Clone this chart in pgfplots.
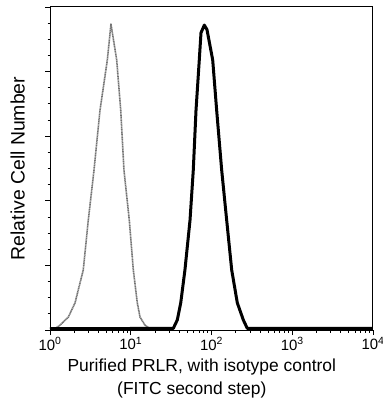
\documentclass[border=0pt]{standalone}
\usepackage{pgfplots}
\pgfplotsset{compat=1.18}
\usepackage{fontspec}
\setmainfont{Liberation Sans}
\begin{document}
\begin{tikzpicture}
\begin{axis}[
  scale only axis,
  width=323bp, height=323bp,
  xmode=log,
  xmin=1, xmax=10000,
  ymin=0, ymax=100,
  xtick={1,10,100,1000,10000},
  xticklabels={10\textsuperscript{0},10\textsuperscript{1},10\textsuperscript{2},10\textsuperscript{3},10\textsuperscript{4}},
  ytick={0,20,40,60,80,100},
  yticklabels={},
  minor y tick num=3,
  xtick pos=bottom, ytick pos=left,
  tick align=outside,
  major tick length=5bp, minor tick length=2.5bp,
  every tick/.style={black, line width=0.8pt},
  axis line style={line width=1pt},
  tick label style={font=\fontsize{15}{17}\selectfont},
  xticklabel style={yshift=1bp},
  /pgf/number format/assume math mode=true,
  xlabel={Purified PRLR, with isotype control\\\hspace*{-20bp}(FITC second step)},
  xlabel style={align=center, font=\fontsize{17.5}{23.5}\selectfont, at={(axis description cs:0.47,0)}, anchor=north, yshift=-25bp},
  ylabel={Relative Cell Number},
  ylabel style={font=\fontsize{19.5}{22}\selectfont, at={(axis description cs:-0.1,0.5)}, anchor=center},
]
% isotype control (grey)
\addplot[black!55, line width=1.6bp, dash pattern=on 1.2bp off 0.5bp, line join=round] coordinates {
(1,0.5) (1.153,0.4) (1.330,1.5) (1.687,4) (2.042,8.4) (2.582,18.6) (2.979,34) (3.508,49.5)
(4.159,68) (5.129,83.6) (5.689,94.7) (6.699,83.6) (7.516,68) (8.241,49.5) (9.594,34)
(10.76,18.6) (12.05,8.4) (13.03,4) (15.00,1.5) (17.30,0.4) (25,0.4)
};
% purified PRLR (black)
\addplot[black, line width=3bp, line join=round] coordinates {
(1,0.4) (33.65,0.5) (37.7,3.1) (41.6,8.4) (46.9,18.6) (54.2,34) (59.5,49.5) (64.3,68)
(70.6,83.6) (74.1,92) (81.5,94.4) (87.9,93) (103.5,83.6) (115.9,68) (133.7,49.5)
(154.2,34) (177.9,18.6) (208.8,8.4) (247.9,3.1) (277.5,0.5) (10000,0.5)
};
\end{axis}
\pgfresetboundingbox
\path (-50bp,-70bp) rectangle (333bp,330bp);
\end{tikzpicture}
\end{document}
